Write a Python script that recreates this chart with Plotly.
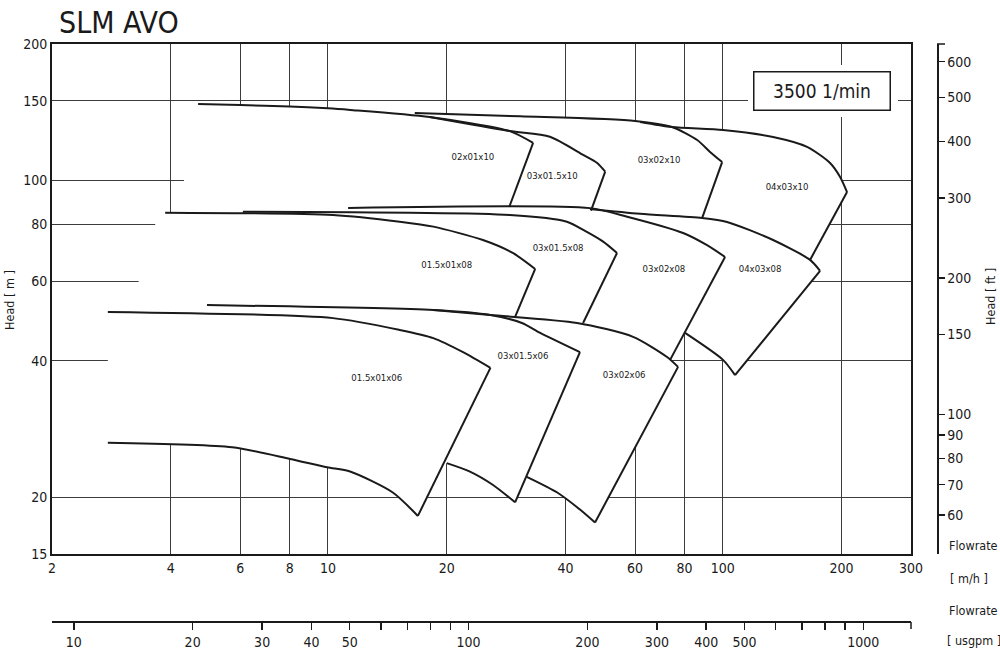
import math
import plotly.graph_objects as go

# ---------------- page geometry ----------------
W, H = 1000, 654
ML, MR, MT, MB = 52, 63, 44, 32          # paper = 52..937 px wide, 44..622 px tall
PLOT_R_PX, PLOT_B_PX = 911, 554           # main plot right / bottom edges

FONT = "DejaVu Sans Condensed, Liberation Sans Narrow, Liberation Sans, sans-serif"
INK = "#1a1a1a"
GRID = "#3c3c3c"

M3H_TO_USGPM = 4.40287
M_TO_FT = 3.28084

# ---------------- axes data ----------------
x_range = [2, 300]            # m3/h
y_range = [15, 200]           # m
x_ticks = [2, 4, 6, 8, 10, 20, 40, 60, 80, 100, 200, 300]
y_ticks = [15, 20, 40, 60, 80, 100, 150, 200]
ft_ticks = [60, 70, 80, 90, 100, 150, 200, 300, 400, 500, 600]
gpm_ticks = [10, 20, 30, 40, 50, 60, 70, 80, 90, 100, 200, 300, 400, 500,
             600, 700, 800, 900, 1000]
gpm_labels = ["10", "20", "30", "40", "50", "", "", "", "", "100", "200", "300",
              "400", "500", "", "", "", "", "1000"]

# ---------------- pump curves: flow [m3/h], head [m] ----------------
# 10 series (max impeller)
q_02x01x10 = [4.69, 6.0, 8.0, 10.0, 11.4, 18.1, 28.9, 33.1]
h_02x01x10 = [147.5, 146.7, 145.6, 144.3, 143.1, 138.0, 128.5, 121.0]
q_03x015x10 = [18.1, 28.9, 36.5, 44.3, 48.1, 50.4]
h_03x015x10 = [138.0, 128.5, 124.9, 113.9, 109.3, 104.6]
q_03x02x10 = [16.6, 30.7, 60.0, 74.4, 86.2, 92.9, 99.7]
h_03x02x10 = [140.8, 138.5, 135.3, 131.2, 122.8, 115.6, 109.8]
q_04x03x10 = [61.8, 74.4, 100.2, 134.2, 163.6, 187.1, 198.4, 206.6]
h_04x03x10 = [134.6, 131.2, 129.2, 124.7, 118.6, 109.3, 101.8, 94.3]

# 08 series
q_015x01x08 = [3.87, 10.3, 15.2, 18.5, 24.7, 29.4, 33.5]
h_015x01x08 = [84.9, 83.9, 81.1, 79.1, 73.9, 69.2, 63.8]
q_03x015x08 = [6.09, 28.9, 40.3, 44.8, 49.8, 54.0]
h_03x015x08 = [85.3, 83.9, 81.1, 77.4, 73.3, 69.2]
q_03x02x08 = [11.25, 46.1, 57.3, 79.4, 91.3, 101.4]
h_03x02x08 = [87.0, 86.9, 83.2, 76.6, 72.0, 67.8]
q_04x03x08 = [46.1, 61.8, 88.7, 102.6, 134.2, 166.5, 176.5]
h_04x03x08 = [86.5, 84.4, 82.6, 81.0, 73.9, 66.8, 63.2]
q_04x03x08_min = [80.3, 100.2, 107.5]
h_04x03x08_min = [46.1, 40.2, 37.2]

# 06 series
q_015x01x06 = [2.77, 10.3, 15.2, 18.5, 22.0, 25.8]
h_015x01x06 = [51.3, 49.7, 46.8, 44.9, 41.8, 38.6]
q_03x015x06 = [4.94, 18.5, 25.8, 31.0, 34.5, 43.5]
h_03x015x06 = [53.1, 51.8, 50.5, 48.5, 46.1, 41.8]
q_03x02x06 = [18.5, 25.8, 42.8, 59.3, 72.3, 77.1]
h_03x02x06 = [51.8, 50.5, 48.5, 45.2, 40.8, 38.8]
q_015x01x06_min = [2.77, 5.72, 8.02, 9.95, 11.38, 14.6, 16.9]
h_015x01x06_min = [26.4, 25.8, 24.3, 23.3, 22.8, 20.5, 18.2]
q_03x015x06_min = [20.0, 22.9, 26.2, 29.8]
h_03x015x06_min = [23.8, 22.8, 21.3, 19.5]
q_03x02x06_min = [31.9, 38.1, 43.5, 47.5]
h_03x02x06_min = [22.2, 20.5, 18.8, 17.6]

# end-of-curve lines (from max curve end down to lower boundary)
endq_02x01x10, endh_02x01x10 = [33.1, 28.8], [121.0, 87.4]
endq_03x015x10, endh_03x015x10 = [50.4, 46.4], [104.6, 85.8]
endq_03x02x10, endh_03x02x10 = [99.7, 88.7], [109.8, 82.6]
endq_04x03x10, endh_04x03x10 = [206.6, 166.5], [94.3, 66.8]
endq_015x01x08, endh_015x01x08 = [33.5, 29.8], [63.8, 50.0]
endq_03x015x08, endh_03x015x08 = [54.0, 44.3], [69.2, 48.5]
endq_03x02x08, endh_03x02x08 = [101.4, 73.6], [67.8, 40.2]
endq_04x03x08, endh_04x03x08 = [176.5, 107.5], [63.2, 37.2]
endq_015x01x06, endh_015x01x06 = [25.8, 16.9], [38.6, 18.2]
endq_03x015x06, endh_03x015x06 = [43.5, 29.8], [41.8, 19.5]
endq_03x02x06, endh_03x02x06 = [77.1, 47.5], [38.8, 17.6]

# left borders of the white family areas (hide the grid)
edge10_q, edge10_h = [11.25, 4.22, 4.32], [84.5, 84.5, 100.0]
edge08_q, edge08_h = [3.15, 3.65], [51.3, 80.0]

# model labels
label_text = ["02x01x10", "03x01.5x10", "03x02x10", "04x03x10",
              "01.5x01x08", "03x01.5x08", "03x02x08", "04x03x08",
              "01.5x01x06", "03x01.5x06", "03x02x06"]
label_q = [23.3, 37.0, 69.0, 145.6, 20.0, 38.3, 71.0, 124.4, 13.3, 31.2, 56.3]
label_h = [112.3, 101.9, 110.4, 96.6, 64.8, 70.6, 63.5, 63.5, 36.5, 40.9, 37.2]

speed_text = "3500 1/min"


# ---------------- helpers ----------------
def px(xp):
    return (xp - ML) / (W - ML - MR)


def py(yp):
    return (H - MB - yp) / (H - MT - MB)


def curve(q, h, shape="spline", width=2.0):
    return go.Scatter(x=q, y=h, mode="lines", showlegend=False, hoverinfo="skip",
                      line=dict(color=INK, width=width, shape=shape, smoothing=0.7))


def mask(q, h):
    return go.Scatter(x=q, y=h, mode="lines", fill="toself", fillcolor="white",
                      line=dict(width=0, color="white"), showlegend=False,
                      hoverinfo="skip")


fig = go.Figure()

# white areas covering the grid inside each family
m10_q = (q_02x01x10[:5] + q_03x02x10[:3] + q_04x03x10[1:] + [endq_04x03x10[1]]
         + q_04x03x08[:5][::-1] + edge10_q)
m10_h = (h_02x01x10[:5] + h_03x02x10[:3] + h_04x03x10[1:] + [endh_04x03x10[1]]
         + h_04x03x08[:5][::-1] + edge10_h)
m08_q = ([q_015x01x08[0], q_03x015x08[0]] + q_03x02x08[:2] + q_04x03x08[1:]
         + [endq_04x03x08[1]] + q_04x03x08_min[:2][::-1] + [endq_03x02x08[1]]
         + q_03x02x06[:5][::-1] + edge08_q)
m08_h = ([h_015x01x08[0], h_03x015x08[0]] + h_03x02x08[:2] + h_04x03x08[1:]
         + [endh_04x03x08[1]] + h_04x03x08_min[:2][::-1] + [endh_03x02x08[1]]
         + h_03x02x06[:5][::-1] + edge08_h)
m06_q = ([q_015x01x06[0]] + q_03x015x06[:3] + q_03x02x06[2:] + [endq_03x02x06[1]]
         + q_03x02x06_min[:-1][::-1] + [endq_03x015x06[1]]
         + q_03x015x06_min[:-1][::-1] + [endq_015x01x06[1]]
         + q_015x01x06_min[:-1][::-1])
m06_h = ([h_015x01x06[0]] + h_03x015x06[:3] + h_03x02x06[2:] + [endh_03x02x06[1]]
         + h_03x02x06_min[:-1][::-1] + [endh_03x015x06[1]]
         + h_03x015x06_min[:-1][::-1] + [endh_015x01x06[1]]
         + h_015x01x06_min[:-1][::-1])
for mq, mh in [(m10_q, m10_h), (m08_q, m08_h), (m06_q, m06_h)]:
    fig.add_trace(mask(mq, mh))

# curves
for q, h in [(q_02x01x10, h_02x01x10), (q_03x015x10, h_03x015x10),
             (q_03x02x10, h_03x02x10), (q_04x03x10, h_04x03x10),
             (q_015x01x08, h_015x01x08), (q_03x015x08, h_03x015x08),
             (q_03x02x08, h_03x02x08), (q_04x03x08, h_04x03x08),
             (q_04x03x08_min, h_04x03x08_min),
             (q_015x01x06, h_015x01x06), (q_03x015x06, h_03x015x06),
             (q_03x02x06, h_03x02x06), (q_015x01x06_min, h_015x01x06_min),
             (q_03x015x06_min, h_03x015x06_min), (q_03x02x06_min, h_03x02x06_min)]:
    fig.add_trace(curve(q, h))

for q, h in [(endq_02x01x10, endh_02x01x10), (endq_03x015x10, endh_03x015x10),
             (endq_03x02x10, endh_03x02x10), (endq_04x03x10, endh_04x03x10),
             (endq_015x01x08, endh_015x01x08), (endq_03x015x08, endh_03x015x08),
             (endq_03x02x08, endh_03x02x08), (endq_04x03x08, endh_04x03x08),
             (endq_015x01x06, endh_015x01x06), (endq_03x015x06, endh_03x015x06),
             (endq_03x02x06, endh_03x02x06)]:
    fig.add_trace(curve(q, h, shape="linear"))

fig.add_trace(go.Scatter(x=label_q, y=label_h, text=label_text, mode="text",
                         textposition="middle center", showlegend=False,
                         hoverinfo="skip",
                         textfont=dict(family=FONT, size=9.5, color=INK)))

# carriers for the secondary axes
fig.add_trace(go.Scatter(x=[v * M3H_TO_USGPM for v in x_range], y=y_range,
                         xaxis="x2", yaxis="y", mode="markers",
                         marker=dict(opacity=0), showlegend=False, hoverinfo="skip"))
fig.add_trace(go.Scatter(x=x_range, y=[v * M_TO_FT for v in y_range],
                         xaxis="x", yaxis="y2", mode="markers",
                         marker=dict(opacity=0), showlegend=False, hoverinfo="skip"))

xdom = (PLOT_R_PX - ML) / (W - ML - MR)
ydom0 = py(PLOT_B_PX)
tickfont = dict(family=FONT, size=14, color=INK)

fig.update_layout(
    width=W, height=H,
    margin=dict(l=ML, r=MR, t=MT, b=MB, pad=0, autoexpand=False),
    paper_bgcolor="white", plot_bgcolor="white",
    showlegend=False,
    xaxis=dict(type="log", range=[math.log10(x_range[0]), math.log10(x_range[1])],
               domain=[0, xdom], anchor="y", automargin=False,
               tickmode="array", tickvals=x_ticks, ticktext=[str(v) for v in x_ticks],
               ticks="", showgrid=True, gridcolor=GRID, gridwidth=1,
               showline=True, linecolor=INK, linewidth=2, mirror=True,
               zeroline=False, tickfont=tickfont),
    yaxis=dict(type="log", range=[math.log10(y_range[0]), math.log10(y_range[1])],
               domain=[ydom0, 1], anchor="x", automargin=False,
               tickmode="array", tickvals=y_ticks, ticktext=[str(v) for v in y_ticks],
               ticks="", showgrid=True, gridcolor=GRID, gridwidth=1,
               showline=True, linecolor=INK, linewidth=2, mirror=True,
               zeroline=False, tickfont=tickfont),
    xaxis2=dict(type="log",
                range=[math.log10(x_range[0] * M3H_TO_USGPM),
                       math.log10(x_range[1] * M3H_TO_USGPM)],
                domain=[0, xdom], anchor="free", position=0, overlaying="x",
                side="bottom", automargin=False, tickmode="array", tickvals=gpm_ticks,
                ticktext=gpm_labels, ticks="outside", ticklen=7, tickwidth=1.5,
                tickcolor=INK, showline=True, linecolor=INK, linewidth=2,
                showgrid=False, zeroline=False, tickfont=tickfont),
    yaxis2=dict(type="log",
                range=[math.log10(y_range[0] * M_TO_FT),
                       math.log10(y_range[1] * M_TO_FT)],
                anchor="free", position=1, overlaying="y", side="right",
                automargin=False,
                tickmode="array", tickvals=ft_ticks,
                ticktext=[str(v) for v in ft_ticks], ticks="outside", ticklen=6,
                tickwidth=1.5, tickcolor=INK, showline=True, linecolor=INK,
                linewidth=1.5, showgrid=False, zeroline=False, tickfont=tickfont),
)

# speed box halo, right-axis top cap, usgpm axis end cap
fig.add_shape(type="rect", xref="paper", yref="paper", layer="above",
              x0=px(748), x1=px(898), y0=py(117), y1=py(65),
              fillcolor="white", line=dict(width=0))
fig.add_shape(type="line", xref="paper", yref="paper",
              x0=px(937), x1=px(945), y0=py(44), y1=py(44),
              line=dict(color=INK, width=1.5))
fig.add_shape(type="line", xref="paper", yref="paper",
              x0=px(911), x1=px(911), y0=py(622), y1=py(629),
              line=dict(color=INK, width=1.5))

ann = [
    dict(text=speed_text, x=px(822), y=py(91), font=dict(size=19)),
    dict(text="SLM AVO", x=px(119), y=py(22), font=dict(size=30)),
    dict(text="Head [ m ]", x=px(9), y=py(300), textangle=-90, font=dict(size=12.5)),
    dict(text="Head [ ft ]", x=px(990), y=py(297), textangle=-90, font=dict(size=12.5)),
    dict(text="Flowrate", x=px(947), y=py(545), xanchor="left", font=dict(size=12.5)),
    dict(text="[ m/h ]", x=px(948), y=py(578), xanchor="left", font=dict(size=12.5)),
    dict(text="Flowrate", x=px(947), y=py(610), xanchor="left", font=dict(size=12.5)),
    dict(text="[ usgpm ]", x=px(945), y=py(640), xanchor="left", font=dict(size=12.5)),
]
for i, a in enumerate(ann):
    a.setdefault("xanchor", "center")
    a.update(xref="paper", yref="paper", yanchor="middle", showarrow=False)
    a["font"] = dict(family=FONT, color=INK, **a["font"])
    if i == 0:
        a.update(bordercolor=INK, borderwidth=1.5, borderpad=6, bgcolor="white",
                 width=123, height=25)
    fig.add_annotation(**a)

# the page's default body margin would shift the fixed-size figure by 8 px
fig.write_html("out.html",
               config={"displayModeBar": False, "staticPlot": True},
               post_script="document.body.style.margin='0';"
                           "document.body.style.overflow='hidden';")
